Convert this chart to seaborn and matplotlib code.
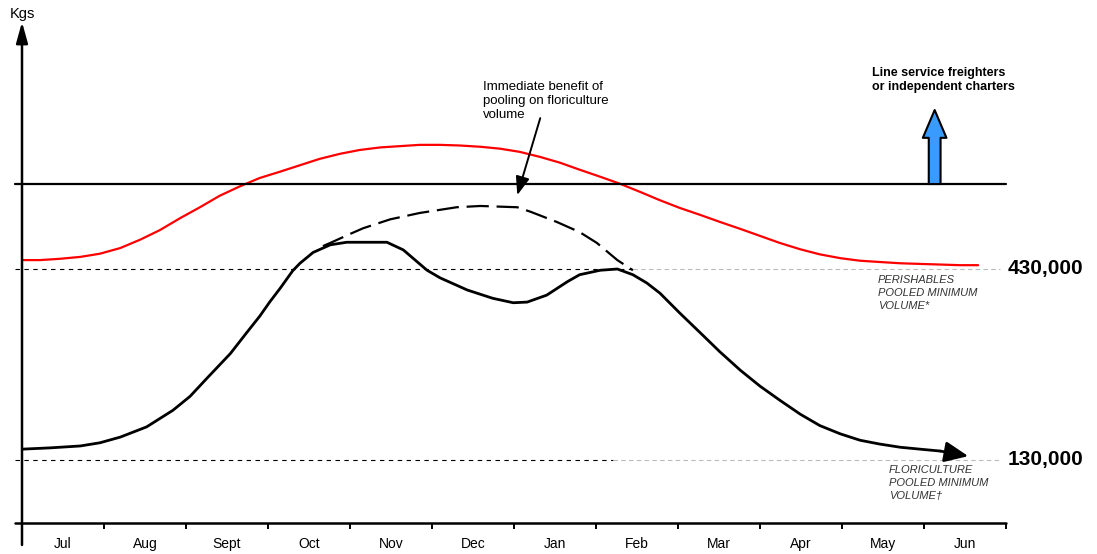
import matplotlib
matplotlib.use('Agg')
import matplotlib.pyplot as plt
import numpy as np
import pandas as pd
import seaborn as sns

# x is in months from the start of July, y in thousands of kg
months = ['Jul', 'Aug', 'Sept', 'Oct', 'Nov', 'Dec', 'Jan', 'Feb', 'Mar', 'Apr', 'May', 'Jun']

perish_x = [0, 0.22, 0.46, 0.71, 0.95, 1.20, 1.44, 1.68, 1.93, 2.17, 2.41, 2.66, 2.90, 3.15,
            3.39, 3.63, 3.88, 4.12, 4.37, 4.61, 4.85, 5.10, 5.34, 5.59, 5.83, 6.07, 6.32,
            6.56, 6.80, 7.05, 7.29, 7.54, 7.78, 8.02, 8.27, 8.51, 8.76, 9.00, 9.24, 9.49,
            9.73, 9.98, 10.22, 10.46, 10.71, 10.95, 11.20, 11.44, 11.66]
perish_y = [444, 444, 446, 449, 454, 463, 476, 491, 510, 527, 545, 560, 573, 583,
            593, 603, 611, 617, 621, 623, 625, 625, 624, 622, 619, 614, 606,
            597, 586, 575, 564, 551, 538, 526, 515, 504, 493, 482, 471, 461,
            453, 447, 443, 441, 439, 438, 437, 436, 436]

flori_x = [0, 0.34, 0.71, 0.95, 1.20, 1.52, 1.84, 2.05, 2.26, 2.54, 2.74, 2.90, 3.02, 3.15,
           3.30, 3.39, 3.55, 3.76, 3.96, 4.45, 4.65, 4.94, 5.10, 5.43, 5.74, 5.99, 6.16,
           6.40, 6.65, 6.80, 7.05, 7.26, 7.45, 7.62, 7.78, 8.02, 8.27, 8.51, 8.76, 9.00,
           9.24, 9.49, 9.73, 9.98, 10.22, 10.46, 10.71, 10.95, 11.20]
flori_y = [147, 149, 152, 157, 166, 182, 208, 230, 259, 297, 330, 356, 378, 400,
           427, 439, 456, 468, 472, 472, 460, 428, 416, 397, 384, 377, 378,
           389, 410, 421, 428, 430, 421, 408, 392, 361, 330, 300, 271, 246,
           224, 202, 184, 171, 161, 155, 150, 147, 144]
flori_tip = (11.54, 136)

pooled_x = [3.67, 3.76, 4.00, 4.16, 4.49, 4.85, 5.30, 5.59, 6.04, 6.20, 6.52, 6.80, 7.01, 7.26, 7.45]
pooled_y = [466, 471, 485, 494, 508, 518, 527, 529, 527, 520, 504, 488, 471, 444, 428]

capacity_level = 563.5
perish_min = 430
flori_min = 130

sns.set_style('white')
plt.rcParams['font.family'] = ['Liberation Sans', 'DejaVu Sans']
plt.rcParams['text.color'] = 'black'
plt.rcParams['xtick.color'] = 'black'

fig = plt.figure(figsize=(10.97, 5.54), dpi=100)
ax = fig.add_axes([22 / 1097, 31 / 554, 984 / 1097, 501 / 554])
ax.set_xlim(0, 12)
ax.set_ylim(31, 818)

perish = pd.DataFrame({'x': perish_x, 'y': perish_y})
flori = pd.DataFrame({'x': flori_x, 'y': flori_y})
pooled = pd.DataFrame({'x': pooled_x, 'y': pooled_y})

sns.lineplot(data=perish, x='x', y='y', color='#ff0000', lw=1.6, sort=False, ax=ax)
sns.lineplot(data=flori, x='x', y='y', color='black', lw=2.0, sort=False, ax=ax)
sns.lineplot(data=pooled, x='x', y='y', color='black', lw=1.6, sort=False, ax=ax,
             dashes=False, linestyle=(0, (10, 3.5)))

# arrow head at the end of the floriculture curve
ax.annotate('', xy=flori_tip, xytext=(flori_x[-1], flori_y[-1]),
            arrowprops=dict(arrowstyle='-|>,head_length=0.8,head_width=0.35', color='black',
                            lw=2.0, mutation_scale=18, shrinkA=0, shrinkB=0))

# reference levels
ax.plot([-0.085, 7.45], [perish_min] * 2, color='black', lw=0.8, ls=(0, (4, 4)), clip_on=False)
ax.plot([7.45, 11.93], [perish_min] * 2, color='#bbbbbb', lw=0.8, ls=(0, (4, 3)), clip_on=False)
ax.plot([-0.085, 7.21], [flori_min] * 2, color='black', lw=0.8, ls=(0, (4, 4)), clip_on=False)
ax.plot([7.21, 11.93], [flori_min] * 2, color='#bbbbbb', lw=0.8, ls=(0, (4, 3)), clip_on=False)
ax.plot([-0.085, 12], [capacity_level] * 2, color='black', lw=1.6, clip_on=False)

# axes drawn by hand with arrow on y
for s in ['top', 'right', 'left', 'bottom']:
    ax.spines[s].set_visible(False)
ax.plot([-0.085, 12], [31, 31], color='black', lw=1.8, clip_on=False)
ax.annotate('', xy=(0, 818), xytext=(0, -3.5), annotation_clip=False,
            arrowprops=dict(arrowstyle='-|>,head_length=0.9,head_width=0.25', color='black',
                            lw=1.8, mutation_scale=14, shrinkA=0, shrinkB=0))

ax.set_xticks(np.arange(1, 13))
ax.set_xticklabels([])
ax.set_xticks(np.arange(12) + 0.5, minor=True)
ax.set_xticklabels(months, minor=True, fontsize=10)
ax.tick_params(axis='x', which='major', direction='out', length=4.5, width=1.4, color='black',
               bottom=True)
ax.tick_params(axis='x', which='minor', length=0, pad=10)
for t in ax.get_xticklines(minor=False):
    t.set_clip_on(False)
ax.set_yticks([])
ax.set_xlabel('')
ax.set_ylabel('')

# blue capacity arrow
ax.annotate('', xy=(11.13, 679.7), xytext=(11.13, capacity_level),
            arrowprops=dict(arrowstyle='simple,head_length=20,head_width=17,tail_width=8.5',
                            mutation_scale=1, fc='#3a9bff', ec='black', lw=1.5,
                            shrinkA=0, shrinkB=0))

# text
ax.text(0, 830, 'Kgs', ha='center', va='center', fontsize=10.5, clip_on=False)
ax.text(5.62, 726, 'Immediate benefit of\npooling on floriculture\nvolume', ha='left', va='top',
        fontsize=9.5, linespacing=1.25)
ax.annotate('', xy=(6.04, 546), xytext=(6.32, 667),
            arrowprops=dict(arrowstyle='-|>,head_length=0.8,head_width=0.3', color='black',
                            lw=1.4, mutation_scale=14, shrinkA=0, shrinkB=0))
ax.text(10.37, 748, 'Line service freighters\nor independent charters', ha='left', va='top',
        fontsize=9, fontweight='bold', linespacing=1.3)

ax.text(12.02, 430, '430,000', ha='left', va='center', fontsize=15, fontweight='bold',
        clip_on=False)
ax.text(12.02, 130, '130,000', ha='left', va='center', fontsize=15, fontweight='bold',
        clip_on=False)
ax.text(10.44, 420, 'PERISHABLES\nPOOLED MINIMUM\nVOLUME*', ha='left', va='top', fontsize=8,
        style='italic', color='#333333', linespacing=1.35)
ax.text(10.57, 122, 'FLORICULTURE\nPOOLED MINIMUM\nVOLUME\u2020', ha='left', va='top', fontsize=8,
        style='italic', color='#333333', linespacing=1.35)

fig.savefig('out.png', dpi=100)
